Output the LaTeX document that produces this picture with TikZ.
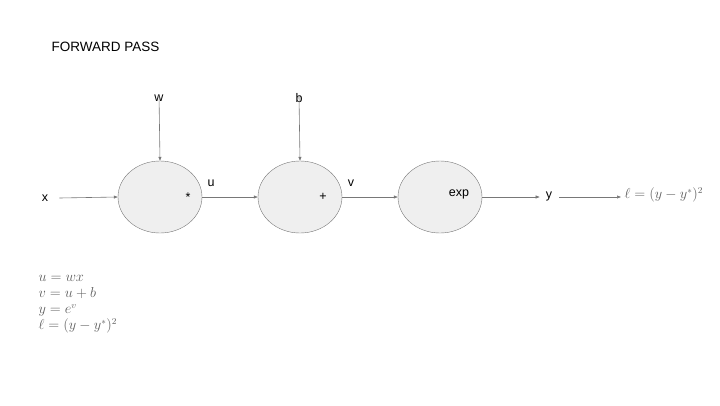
\documentclass[tikz,border=0pt]{standalone}
\usepackage{amsmath}
\usepackage{fontspec}
\setmainfont{Liberation Sans}
\usepackage{tikz}
\usetikzlibrary{arrows.meta,positioning,calc,shapes.geometric}

\definecolor{linegray}{RGB}{120,120,120}
\definecolor{nodefill}{RGB}{239,239,239}
\definecolor{mathgray}{RGB}{95,95,95}

\tikzset{
  gate/.style={ellipse, draw=linegray, fill=nodefill, minimum width=84pt, minimum height=72pt, inner sep=0pt},
  lbl/.style={font=\fontsize{12.5}{14}\selectfont, inner sep=2pt},
  arr/.style={-{Triangle[length=4pt,width=3pt]}, linegray, line width=0.6pt},
  eqn/.style={mathgray, font=\fontsize{13.5}{16}\selectfont},
}

\begin{document}
\begin{tikzpicture}[x=1pt, y=-1pt]
    \useasboundingbox (0,0) rectangle (720,405);

    % Title
    \node[anchor=west, font=\fontsize{13.5}{16}\selectfont] (title) at (48,47) {FORWARD PASS};

    % Gates
    \node[gate] (mul) at (160,197) {};
    \node[gate] (add) at (300,197) {};
    \node[gate] (ex) at (440,197) {};
    \node[lbl] (mulop) at ([xshift=28pt]mul.center) {*};
    \node[lbl] (addop) at ([xshift=23pt]add.center) {+};
    \node[lbl] (exop) at ([xshift=19pt,yshift=3pt]ex.center) {exp};

    % Inputs and outputs
    \node[lbl] (x) at (45,198) {x};
    \node[lbl] (w) at (159,98) {w};
    \node[lbl] (b) at (299,98) {b};
    \node[lbl] (u) at (211,183) {u};
    \node[lbl] (v) at (351,183) {v};
    \node[lbl] (y) at (549,196) {y};
    \node[eqn, anchor=west] (loss) at (621,195) {$\ell = (y - y^{*})^{2}$};

    % Connectors
    \draw[arr] ([xshift=9pt]x.east) -- (mul.west);
    \draw[arr] ([yshift=9pt]w.south) -- (mul.north);
    \draw[arr] ([yshift=9pt]b.south) -- (add.north);
    \draw[arr] (mul.east) -- (add.west);
    \draw[arr] (add.east) -- (ex.west);
    \draw[arr] (ex.east) -- ([xshift=-4pt]y.west |- ex.east);
    \draw[arr] ([xshift=5pt]y.east |- ex.east) -- (loss.west |- ex.east);

    % Equations
    \node[eqn, anchor=north west, align=left] (eqs) at (35,272) {%
      $u = wx$\\
      $v = u + b$\\
      $y = e^{v}$\\
      $\ell = (y - y^{*})^{2}$};
\end{tikzpicture}
\end{document}
